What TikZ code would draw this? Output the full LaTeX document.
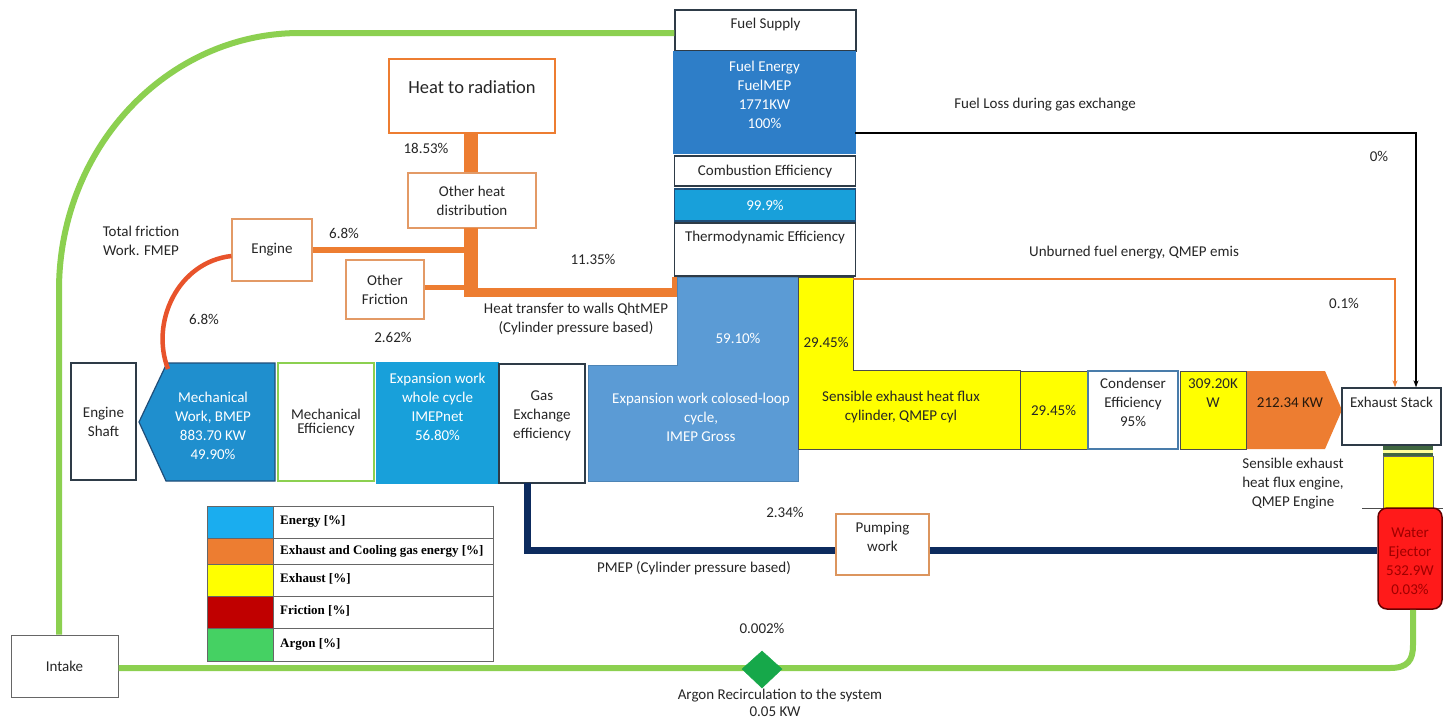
\documentclass[tikz,border=0pt]{standalone}
\usepackage{fontspec}
\setmainfont{Carlito}
\newfontfamily\legfont{Liberation Serif}
\usetikzlibrary{shapes.geometric,arrows.meta,calc}
\definecolor{ink}{HTML}{262626}
\definecolor{boxc}{HTML}{2E3B47}
\definecolor{fuelblue}{HTML}{2E7EC8}
\definecolor{brightblue}{HTML}{18A0DA}
\definecolor{mechblue}{HTML}{1F8FCE}
\definecolor{mechbord}{HTML}{1F4E79}
\definecolor{grossblue}{HTML}{5B9BD5}
\definecolor{flowor}{HTML}{ED7D31}
\definecolor{obord}{HTML}{E39A66}
\definecolor{arcred}{HTML}{E8532B}
\definecolor{yel}{HTML}{FFFF00}
\definecolor{argon}{HTML}{8CD050}
\definecolor{navy}{HTML}{0D2B5E}
\definecolor{ejred}{HTML}{FF1A1A}
\definecolor{ejtext}{HTML}{A00000}
\definecolor{legE}{HTML}{1AADEF}
\definecolor{legF}{HTML}{C00000}
\definecolor{legA}{HTML}{45D163}
\definecolor{diam}{HTML}{16A84A}
\tikzset{
  txt/.style={font=\fontsize{15}{19}\selectfont, text=ink, align=center, inner sep=0pt},
  wtxt/.style={txt, text=white},
  box/.style={draw=boxc, line width=1.3pt, fill=white, inner sep=0pt, align=center,
              font=\fontsize{15}{19}\selectfont, text=ink},
  obox/.style={box, draw=obord, line width=1.1pt},
  flowline/.style={draw=flowor},
  legcell/.style={draw=gray!80!black, line width=0.8pt, inner sep=0pt, anchor=north west},
  legtxt/.style={font=\legfont\bfseries\fontsize{13}{15}\selectfont, text=black, anchor=west, inner sep=0pt},
  tip/.style={-{Stealth[length=7pt,width=5pt]}}
}
\begin{document}
\begin{tikzpicture}[x=1pt,y=-1pt]
\useasboundingbox (0,0) rectangle (1443,721);
\fill[white] (0,0) rectangle (1443,721);

% ---------- top column ----------
\node[box, minimum width=181pt, minimum height=41pt] (fuelsup) at (765.5,30.5) {};
\node[txt] at (765.5,24) {Fuel Supply};
\node[box, draw=fuelblue, fill=fuelblue, minimum width=181pt, minimum height=101pt] (fuelE) at (764.5,102.5) {};
\node[wtxt] at (764.5,95) {Fuel Energy\\FuelMEP\\1771KW\\100\%};
\node[box, minimum width=181pt, minimum height=30pt] (comb) at (765,171) {Combustion Efficiency};
\node[box, draw=mechbord, fill=brightblue, minimum width=181pt, minimum height=32pt, text=white] (eff) at (765,205) {99.9\%};
\node[box, minimum width=181pt, minimum height=53pt] (thermo) at (765,249.5) {};
\node[txt] at (765,237) {Thermodynamic Efficiency};

% ---------- heat distribution ----------
\node[box, draw=flowor, line width=2.6pt, minimum width=166pt, minimum height=74pt] (heatrad) at (472,96) {};
\node[txt, font=\fontsize{18.5}{22}\selectfont] at (472,87) {Heat to radiation};
\node[obox, minimum width=128pt, minimum height=55pt] (otherheat) at (472,200.5) {Other heat\\distribution};
\node[obox, minimum width=80pt, minimum height=62pt] (engine) at (272,250) {Engine};
\node[obox, minimum width=78pt, minimum height=59pt] (otherfric) at (385,289.5) {Other\\Friction};

\coordinate (trkTop) at (470.5,228);
\coordinate (trkBot) at (470.5,297);
\coordinate (wallEnd) at (678,292.5);
\draw[flowline, line width=14pt] (heatrad.south -| trkTop) -- (otherheat.north -| trkTop);
\draw[flowline, line width=14pt] (trkTop) -- (trkBot);
\draw[flowline, line width=6pt] (engine.east) -- (engine.east -| trkTop);
\draw[flowline, line width=5pt] (otherfric.east |- 0,287.5) -- (trkTop |- 0,287.5);
\draw[flowline, line width=9pt] (463.5,292.5) -- (wallEnd);
\draw[flowline, line width=6pt] (675,277) -- (675,297);

% ---------- main row ----------
\node[box, minimum width=65pt, minimum height=117pt] (shaft) at (103.5,421.5) {Engine\\Shaft};
\draw[draw=mechbord, line width=1.2pt, fill=mechblue] (139,422) -- (167,363) -- (275,363) -- (275,481) -- (166,481) -- cycle;
\node[wtxt] (mechwork) at (213,425.5) {Mechanical\\Work, BMEP\\883.70 KW\\49.90\%};
\node[box, draw=argon, line width=1.2pt, minimum width=96pt, minimum height=118pt, font=\fontsize{15}{14}\selectfont] (mecheff) at (326,422) {Mechanical\\Efficiency};
\node[box, draw=brightblue, fill=brightblue, minimum width=121pt, minimum height=120pt] (expnet) at (437.5,423) {};
\node[wtxt] at (437.5,406.5) {Expansion work\\whole cycle\\IMEPnet\\56.80\%};
\node[box, minimum width=86pt, minimum height=119pt] (gasex) at (542,423.5) {};
\node[txt] at (542,416) {Gas\\Exchange\\efficiency};

\draw[draw=grossblue!85!black, line width=0.8pt, fill=grossblue] (588,365) -- (677,365) -- (677,277) -- (798,277) -- (798,481) -- (588,481) -- cycle;
\node[wtxt] at (738,338) {59.10\%};
\node[wtxt] (gross) at (701,417) {Expansion work colosed-loop\\cycle,\\IMEP Gross};

\draw[draw=black!70, line width=0.8pt, fill=yel] (798,277) -- (853,277) -- (853,370) -- (1020,370) -- (1020,449) -- (798,449) -- cycle;
\coordinate (yelTop) at (853,279);
\node[txt] at (826,342) {29.45\%};
\node[txt] (qcyl) at (901,406.5) {Sensible exhaust heat flux\\cylinder, QMEP cyl};

\node[box, draw=black!70, line width=1pt, fill=yel, minimum width=67pt, minimum height=78pt] (y2945) at (1053.5,410) {29.45\%};
\node[box, draw=grossblue!80!black, line width=1.2pt, minimum width=90pt, minimum height=78pt] (cond) at (1133,410) {};
\node[txt] at (1133,402.5) {Condenser\\Efficiency\\95\%};
\node[box, draw=black!70, line width=1pt, fill=yel, minimum width=66pt, minimum height=78pt] (kw309) at (1213,410) {};
\node[txt] at (1213,393.5) {309.20K\\W};
\fill[flowor] (1247,371) -- (1325,371) -- (1342,410) -- (1325,449) -- (1247,449) -- cycle;
\node[txt, text=black!80!brown] (kw212) at (1290,403) {212.34 KW};
\node[txt] at (1293,484) {Sensible exhaust\\heat flux engine,\\QMEP Engine};

\node[box, minimum width=99pt, minimum height=57pt] (stack) at (1391.5,416.5) {};
\node[txt] at (1391.5,402) {Exhaust Stack};

% stack column
\fill[black!70!green!50!gray] (1383,446) rectangle (1433,450);
\fill[yel!40] (1383,450) rectangle (1433,453);
\fill[black!70!green!50!gray] (1383,453) rectangle (1433,456);
\draw[draw=black!60, line width=0.8pt, fill=yel] (1383,456) rectangle (1433,508);
\draw[black!70, line width=1pt] (1362,508) -- (1443,508);
\node[draw=black!60!red, line width=1.5pt, fill=ejred, rounded corners=9pt, minimum width=64pt, minimum height=101pt, inner sep=0pt] (water) at (1410,558.5) {};
\node[txt, text=ejtext] at (1410,561) {Water\\Ejector\\532.9W\\0.03\%};

% ---------- connectors to exhaust stack ----------
\coordinate (fuelLoss) at (855,133);
\draw[black, line width=1.4pt, tip] (fuelLoss) -| (stack.north -| 1416,0);
\draw[flowline, line width=1.4pt, tip] (yelTop) -| (stack.north -| 1395,0);

% ---------- friction arc ----------
\coordinate (arcStart) at ($(engine.west)+(0,6)$);
\coordinate (arcEnd) at (168,369);
\draw[arcred, line width=4.5pt] (arcStart) .. controls (178,262) and (150,322) .. (arcEnd);

% ---------- pumping ----------
\node[obox, draw=obord!80!brown, minimum width=93pt, minimum height=61pt] (pump) at (882.5,544.5) {};
\node[txt] at (882.5,537) {Pumping\\work};
\coordinate (gasOut) at (527.5,483);
\draw[navy, line width=7pt] (gasOut) |- (pump.west |- 0,550);
\draw[navy, line width=7pt] (pump.east |- 0,550) -- (water.west |- 0,550);

% ---------- argon loop ----------
\node[box, draw=black!60, line width=1pt, minimum width=107pt, minimum height=62pt] (intake) at (64.5,666) {Intake};
\draw[argon, line width=6pt] (intake.north -| 59,0) -- (59,290) .. controls (59,148) and (167,33) .. (300,33) -- (fuelsup.west |- 0,33);
\draw[argon, line width=6pt] (intake.east |- 0,668) -- (1390,668) .. controls (1408,668) and (1413,660) .. (1413,645) -- (water.south -| 1413,0);
\draw[draw=diam, fill=diam] (762,651) -- (782,669) -- (762,688) -- (742,669) -- cycle;
\node[inner sep=0pt, minimum size=20pt] (argdiam) at (762,669) {};

% ---------- legend ----------
\draw[legcell, fill=legE] (207,506) rectangle (273,538);
\draw[legcell, fill=flowor] (207,538) rectangle (273,564);
\draw[legcell, fill=yel] (207,564) rectangle (273,596);
\draw[legcell, fill=legF] (207,596) rectangle (273,628);
\draw[legcell, fill=legA] (207,628) rectangle (273,661);
\draw[legcell] (273,506) rectangle (493,538);
\draw[legcell] (273,538) rectangle (493,564);
\draw[legcell] (273,564) rectangle (493,596);
\draw[legcell] (273,596) rectangle (493,628);
\draw[legcell] (273,628) rectangle (493,661);
\node[legtxt] (l1) at (280,521) {Energy [\%]};
\node[legtxt] (l2) at (280,551) {Exhaust and Cooling gas energy [\%]};
\node[legtxt] (l3) at (280,579) {Exhaust [\%]};
\node[legtxt] (l4) at (280,611) {Friction [\%]};
\node[legtxt] (l5) at (280,644) {Argon [\%]};

% ---------- labels ----------
\node[txt] at (141,241) {Total friction\\Work. FMEP};
\node[txt] at (344,233) {6.8\%};
\node[txt] at (204,319) {6.8\%};
\node[txt] at (393,337) {2.62\%};
\node[txt] at (426,148) {18.53\%};
\node[txt] at (593,259) {11.35\%};
\node[txt] at (576,319) {Heat transfer to walls QhtMEP\\(Cylinder pressure based)};
\node[txt] at (1045,105) {Fuel Loss during gas exchange};
\node[txt] at (1379,156) {0\%};
\node[txt] at (1134,253) {Unburned fuel energy, QMEP emis};
\node[txt] at (1344,303) {0.1\%};
\node[txt] at (785,512) {2.34\%};
\node[txt] at (694,568) {PMEP (Cylinder pressure based)};
\node[txt] at (762,628) {0.002\%};
\node[txt] at (780,696) {Argon Recirculation to the system};
\node[txt] at (775,712) {0.05 KW};
\end{tikzpicture}
\end{document}
